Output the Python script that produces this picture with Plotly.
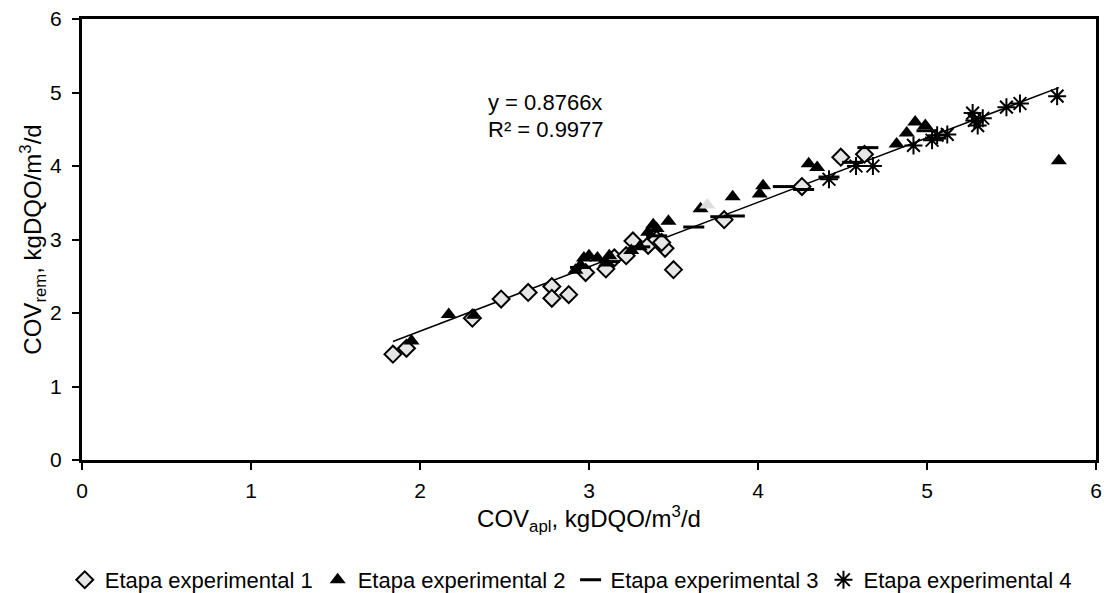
import plotly.graph_objects as go

# Etapa experimental 1 (diamonds)
e1_x = [1.84, 1.92, 2.31, 2.48, 2.64, 2.78, 2.78, 2.88, 2.98, 3.10, 3.15, 3.22, 3.26, 3.35, 3.40, 3.45, 3.43, 3.50, 3.80, 4.26, 4.49, 4.63]
e1_y = [1.44, 1.52, 1.93, 2.19, 2.28, 2.36, 2.20, 2.25, 2.55, 2.60, 2.75, 2.78, 2.98, 2.92, 3.00, 2.88, 2.96, 2.59, 3.27, 3.72, 4.12, 4.16]

# Etapa experimental 2 (triangles)
e2_x = [1.95, 2.17, 2.32, 2.92, 2.95, 2.97, 3.00, 3.05, 3.10, 3.12, 3.25, 3.30, 3.35, 3.38, 3.40, 3.47, 3.66, 3.85, 4.01, 4.03, 4.30, 4.35, 4.82, 4.88, 4.93, 4.99, 5.78]
e2_y = [1.62, 1.98, 1.97, 2.58, 2.65, 2.75, 2.78, 2.75, 2.68, 2.78, 2.85, 2.90, 3.10, 3.20, 3.15, 3.25, 3.42, 3.58, 3.62, 3.73, 4.03, 3.98, 4.30, 4.45, 4.60, 4.55, 4.07]

# Etapa experimental 3 (dashes)
e3_x = [2.95, 3.12, 3.30, 3.40, 3.62, 3.78, 3.86, 4.15, 4.27, 4.42, 4.56, 4.65, 5.00, 5.05]
e3_y = [2.62, 2.70, 2.90, 3.05, 3.17, 3.31, 3.32, 3.72, 3.68, 3.85, 4.05, 4.25, 4.48, 4.38]

# Etapa experimental 4 (asterisks)
e4_x = [4.42, 4.58, 4.68, 4.92, 5.03, 5.06, 5.12, 5.27, 5.28, 5.30, 5.33, 5.47, 5.55, 5.77]
e4_y = [3.82, 4.00, 4.00, 4.28, 4.35, 4.42, 4.43, 4.72, 4.62, 4.55, 4.65, 4.80, 4.85, 4.95]

# odd light grey point
grey_x = [3.70]
grey_y = [3.47]

slope = 0.8766
r2 = 0.9977

all_x = e1_x + e2_x + e3_x + e4_x
tx = [min(all_x), max(all_x)]
ty = [slope * v for v in tx]

font = "Liberation Sans, Arial, sans-serif"

fig = go.Figure()
fig.add_trace(go.Scatter(x=tx, y=ty, mode="lines", line=dict(color="black", width=1.5), showlegend=False, hoverinfo="skip"))
fig.add_trace(go.Scatter(x=e1_x, y=e1_y, mode="markers", name="Etapa experimental 1",
                         marker=dict(symbol="diamond", size=13, color="#e6e6e6", line=dict(color="black", width=2))))
fig.add_trace(go.Scatter(x=e2_x, y=e2_y, mode="markers", name="Etapa experimental 2",
                         marker=dict(symbol="triangle-up", size=14, color="black", line=dict(color="black", width=0))))
fig.add_trace(go.Scatter(x=grey_x, y=grey_y, mode="markers", showlegend=False,
                         marker=dict(symbol="triangle-up", size=14, color="#dddddd", line=dict(width=0))))
fig.add_trace(go.Scatter(x=e3_x, y=e3_y, mode="markers", name="Etapa experimental 3",
                         marker=dict(symbol="line-ew", size=15, color="black", line=dict(color="black", width=3))))
fig.add_trace(go.Scatter(x=e4_x, y=e4_y, mode="markers", name="Etapa experimental 4",
                         marker=dict(symbol="asterisk", size=15, color="black", line=dict(color="black", width=2))))

fig.add_annotation(x=2.39, y=4.86, xref="x", yref="y", text="y = 0.8766x", showarrow=False,
                   xanchor="left", font=dict(family=font, size=22, color="black"))
fig.add_annotation(x=2.39, y=4.50, xref="x", yref="y", text="R² = 0.9977", showarrow=False,
                   xanchor="left", font=dict(family=font, size=22, color="black"))

axis_common = dict(range=[0, 6], dtick=1, showgrid=False, zeroline=False, showline=True, mirror=True,
                   linecolor="black", linewidth=3, ticks="outside", ticklen=7, tickwidth=2, tickcolor="black",
                   tickfont=dict(family=font, size=21, color="black"), automargin=False)

fig.update_layout(
    width=1104, height=593,
    margin=dict(l=82, r=8, t=19, b=133, autoexpand=False),
    paper_bgcolor="white", plot_bgcolor="white",
    font=dict(family=font, color="black"),
    xaxis=dict(**axis_common, ticklabelstandoff=3,
               title=dict(text="COV<sub>apl</sub>, kgDQO/m<sup>3</sup>/d", font=dict(family=font, size=24), standoff=9)),
    yaxis=dict(**axis_common, ticklabelstandoff=6,
               title=dict(text="COV<sub>rem</sub>, kgDQO/m<sup>3</sup>/d", font=dict(family=font, size=24), standoff=0)),
    legend=dict(orientation="h", x=0.517, xref="container", xanchor="center", y=0.022, yref="container",
                yanchor="middle", font=dict(family=font, size=22, color="black"), itemwidth=30, tracegroupgap=0),
)

fig.write_html("out.html", config={"displayModeBar": False},
               post_script="document.body.style.margin='0';document.body.style.overflow='hidden';")
